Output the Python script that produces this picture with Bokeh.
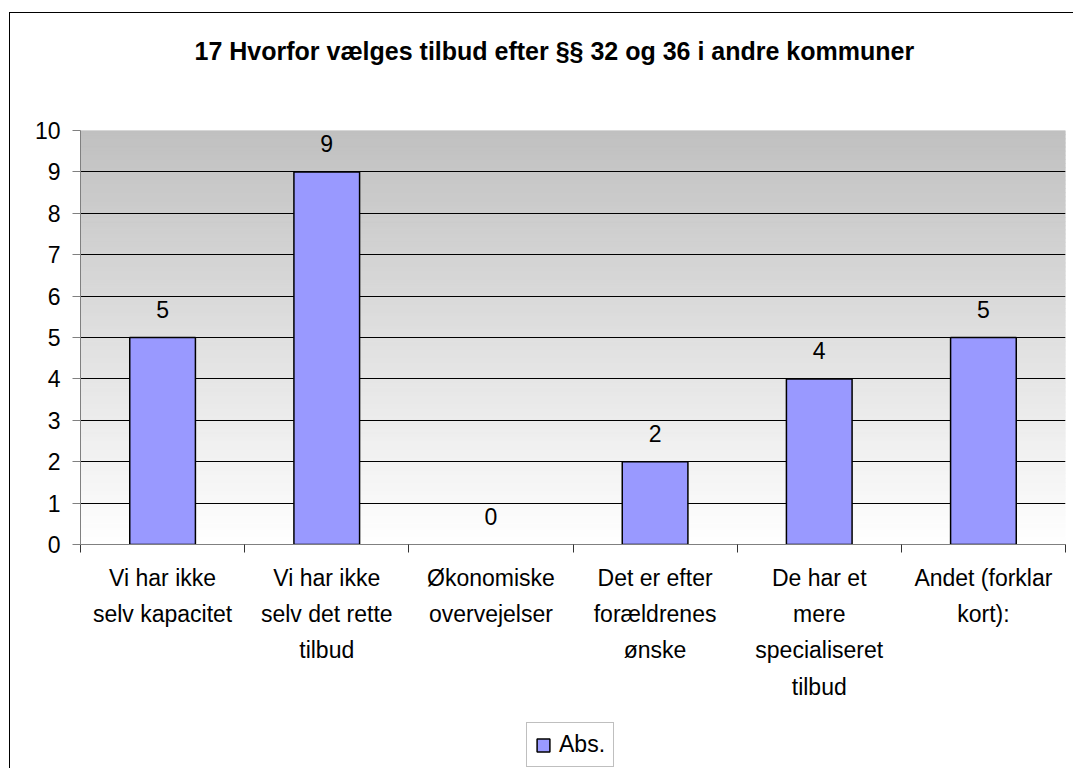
from bokeh.plotting import figure
from bokeh.layouts import column
from bokeh.models import (FixedTicker, Range1d, Legend, LegendItem, ColumnDataSource,
                          Title)
from bokeh.core.properties import value
from bokeh.embed import file_html
from bokeh.resources import INLINE

# ---- data ----
categories = [
    "Vi har ikke\nselv kapacitet",
    "Vi har ikke\nselv det rette\ntilbud",
    "Økonomiske\novervejelser",
    "Det er efter\nforældrenes\nønske",
    "De har et\nmere\nspecialiseret\ntilbud",
    "Andet (forklar\nkort):",
]
values = [5, 9, 0, 2, 4, 5]
y_ticks = [0, 1, 2, 3, 4, 5, 6, 7, 8, 9, 10]
series_name = "Abs."
title_text = "17 Hvorfor vælges tilbud efter §§ 32 og 36 i andre kommuner"

FONT = "Liberation Sans"
BAR_FILL = "#9999ff"
n = len(categories)
ymax = y_ticks[-1]

fig = figure(width=1073, height=722, output_backend="svg", toolbar_location=None,
             x_range=Range1d(0, n), y_range=Range1d(0, ymax),
             min_border_left=80, min_border_right=8, min_border_top=130,
             min_border_bottom=178, outline_line_color=None,
             background_fill_color="white", border_fill_color=None)

# spacer between title and plot area, then the title itself
fig.add_layout(Title(text=" ", text_font_size="10px", standoff=48), "above")
fig.title.text = title_text
fig.title.text_font = FONT
fig.title.text_font_size = "25px"
fig.title.text_font_style = "bold"
fig.title.text_color = "black"
fig.title.align = "left"
fig.title.offset = 114
fig.title.standoff = 10

# gradient plot-area background (decorative)
steps = 100
bot = [ymax * i / steps for i in range(steps)]
top = [ymax * (i + 1) / steps for i in range(steps)]
cols = []
for i in range(steps):
    t = (i + 0.5) / steps  # 0 bottom -> 1 top
    c = int(round(255 - (255 - 192) * t))
    cols.append("#%02x%02x%02x" % (c, c, c))
fig.quad(left=0, right=n, bottom=bot, top=top, fill_color=cols, line_color=cols,
         line_width=1, level="image")

# bars
xs = [i + 0.5 for i in range(n)]
src = ColumnDataSource(dict(x=xs, top=values, lab=[str(v) for v in values],
                            la=[1.0 if v > 0 else 0.0 for v in values]))
bars = fig.vbar(x="x", top="top", width=0.4, source=src, fill_color=BAR_FILL,
                line_color="black", line_width=1.5, line_alpha="la")
fig.text(x="x", y="top", text="lab", source=src, text_align="center",
         text_baseline="alphabetic", y_offset=-28, text_font=value(FONT),
         text_font_size="23px", text_color="black")

# grid
fig.xgrid.visible = False
fig.ygrid.ticker = FixedTicker(ticks=y_ticks)
fig.ygrid.grid_line_color = "black"
fig.ygrid.grid_line_width = 1

# y axis
fig.yaxis.ticker = FixedTicker(ticks=y_ticks)
fig.yaxis.axis_line_color = "#808080"
fig.yaxis.major_tick_line_color = "#808080"
fig.yaxis.major_tick_out = 8
fig.yaxis.major_tick_in = 0
fig.yaxis.minor_tick_line_color = None
fig.yaxis.major_label_text_font = FONT
fig.yaxis.major_label_text_font_size = "23px"
fig.yaxis.major_label_text_color = "black"
fig.yaxis.major_label_standoff = 12

# x axis: labels at centres, ticks at category boundaries
fig.xaxis.ticker = FixedTicker(ticks=xs, minor_ticks=list(range(n + 1)))
fig.xaxis.major_label_overrides = {x: c for x, c in zip(xs, categories)}
fig.xaxis.axis_line_color = "#808080"
fig.xaxis.major_tick_line_color = None
fig.xaxis.major_tick_out = 8
fig.xaxis.major_tick_in = 0
fig.xaxis.minor_tick_line_color = "#333333"
fig.xaxis.minor_tick_out = 8
fig.xaxis.minor_tick_in = 0
fig.xaxis.major_label_text_font = FONT
fig.xaxis.major_label_text_font_size = "23px"
fig.xaxis.major_label_text_color = "black"
fig.xaxis.major_label_text_line_height = 1.4
fig.xaxis.major_label_standoff = 12

# legend strip under the chart (its frame is aligned with the chart's frame)
lf = figure(width=1073, height=46, output_backend="svg", toolbar_location=None,
            x_range=Range1d(0, 1), y_range=Range1d(0, 1),
            x_axis_type=None, y_axis_type=None, min_border=0,
            outline_line_color=None, background_fill_color=None,
            border_fill_color=None)
lf.xgrid.visible = False
lf.ygrid.visible = False
key = lf.vbar(x="x", top="top", width=0.4, source=src, fill_color=BAR_FILL,
              line_color="black", line_width=1.5, visible=False)
legend = Legend(items=[LegendItem(label=series_name, renderers=[key])],
                location=(446, 1), orientation="horizontal",
                border_line_color="#808080", border_line_width=1,
                glyph_width=16, glyph_height=16, label_text_font=FONT,
                label_text_font_size="23px", label_text_color="black",
                padding=8, spacing=0, label_standoff=8,
                background_fill_color="white", background_fill_alpha=1, margin=0)
lf.add_layout(legend, "center")

# outer chart border (left and top edges visible), drawn behind the canvases
page = column(fig, lf, spacing=0, styles={
    "background": "linear-gradient(#000,#000) 9px 12px / 1px 100% no-repeat, "
                  "linear-gradient(#000,#000) 9px 12px / 100% 1px no-repeat, #ffffff"
})

open("out.html", "w").write(file_html(page, INLINE))
